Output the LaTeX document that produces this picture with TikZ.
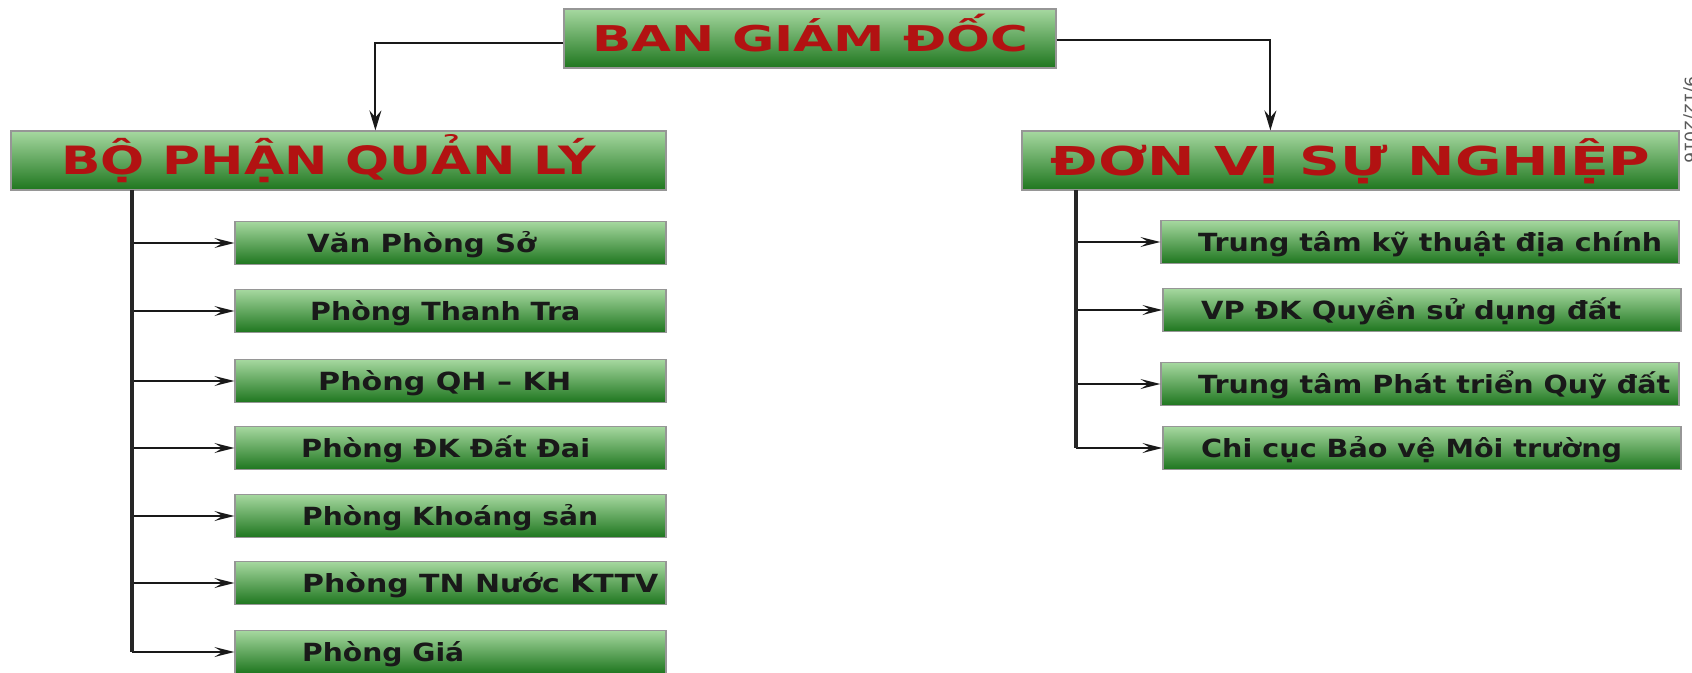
\documentclass[tikz,border=0pt]{standalone}
\usepackage{fontspec}
\setmainfont{DejaVu Sans}
\usetikzlibrary{arrows.meta,calc}
\definecolor{gtop}{RGB}{166,216,160}
\definecolor{gbot}{RGB}{30,118,30}
\definecolor{hred}{RGB}{178,18,18}
\definecolor{edgegray}{RGB}{150,150,150}
\newcommand{\fitw}[2]{\setbox0=\hbox{#2}\pgfmathsetmacro{\myxs}{#1/\wd0}\scalebox{\myxs}[1]{\box0}}
\begin{document}
\begin{tikzpicture}[x=1pt,y=-1pt,
  gbox/.style={draw=edgegray,line width=1.2pt,top color=gtop,bottom color=gbot,inner sep=0pt,anchor=center},
  hbox/.style={gbox,minimum height=59pt,text=hred,text depth=0pt},
  cbox/.style={gbox,minimum height=43pt},
  ctext/.style={anchor=west,inner sep=0pt,font=\bfseries\fontsize{25}{28}\selectfont,text=black!90,text height=18.2pt,text depth=0pt},
  conn/.style={line width=2pt,draw=black!90},
  trunkline/.style={line width=3.4pt,draw=black!85},
  arr/.style={conn,-{Stealth[length=20pt,width=10pt,inset=8pt]}},
  varr/.style={line width=2pt,draw=black!90,-{Stealth[length=20pt,width=12pt,inset=7pt]}}
]
\useasboundingbox (0,0) rectangle (1692,672);
\fill[white] (0,0) rectangle (1692,672);

% headers
\node[hbox,minimum width=492pt,font=\bfseries\fontsize{35.5}{40}\selectfont,text height=26pt] (bgd) at (810,38.5) {\fitw{436}{BAN GIÁM ĐỐC}};
\node[hbox,minimum width=655pt,font=\bfseries\fontsize{39}{42}\selectfont,text height=28.5pt] (bpql) at (338.5,160.5) {\hspace*{-20pt}\fitw{535}{BỘ PHẬN QUẢN LÝ}};
\node[hbox,minimum width=657pt,font=\bfseries\fontsize{39.8}{44}\selectfont,text height=29pt] (dvsn) at (1350.5,160.5) {\fitw{600}{ĐƠN VỊ SỰ NGHIỆP}};

% top connectors
\draw[varr] ($(bgd.west)+(0,4.5)$) -| ($(bpql.north west)+(365,0)$);
\draw[varr] ($(bgd.east)+(0,1.5)$) -| ($(dvsn.north west)+(249,0)$);

% left branch
\coordinate (lt) at (132,190);
\foreach \i/\y/\tx/\w/\lbl in {1/243/307/229/Văn Phòng Sở,2/311/310/270/Phòng Thanh Tra,3/381/318/253/Phòng QH – KH,4/448/301/289/Phòng ĐK Đất Đai,5/516/302/296/Phòng Khoáng sản,6/583/302/356/Phòng TN Nước KTTV,7/652/302/162/Phòng Giá}{
  \node[cbox,minimum width=431pt] (L\i) at (450.5,\y) {};
  \node[ctext] (LT\i) at (\tx,\y) {\fitw{\w}{\lbl}};
  \draw[arr] (L\i.west -| lt) -- (L\i.west);
}
\draw[trunkline] (lt) -- (lt |- L7.west);

% right branch
\coordinate (rt) at (1076,190);
\foreach \i/\y/\bx/\tx/\w/\lbl in {1/242/1420/1198/464/Trung tâm kỹ thuật địa chính,2/310/1422/1201/420/VP ĐK Quyền sử dụng đất,3/384/1420/1198/472/Trung tâm Phát triển Quỹ đất,4/448/1422/1201/421/Chi cục Bảo vệ Môi trường}{
  \node[cbox,minimum width=518pt] (R\i) at (\bx,\y) {};
  \node[ctext] (RT\i) at (\tx,\y) {\fitw{\w}{\lbl}};
  \draw[arr] (R\i.west -| rt) -- (R\i.west);
}
\draw[trunkline] (rt) -- (rt |- R4.west);

% cut-off date at right edge
\node[rotate=-90,anchor=south,inner sep=0pt,text=black!65,font=\fontsize{17}{19}\selectfont] (date) at (1683,120) {9/12/2016};
\end{tikzpicture}
\end{document}
